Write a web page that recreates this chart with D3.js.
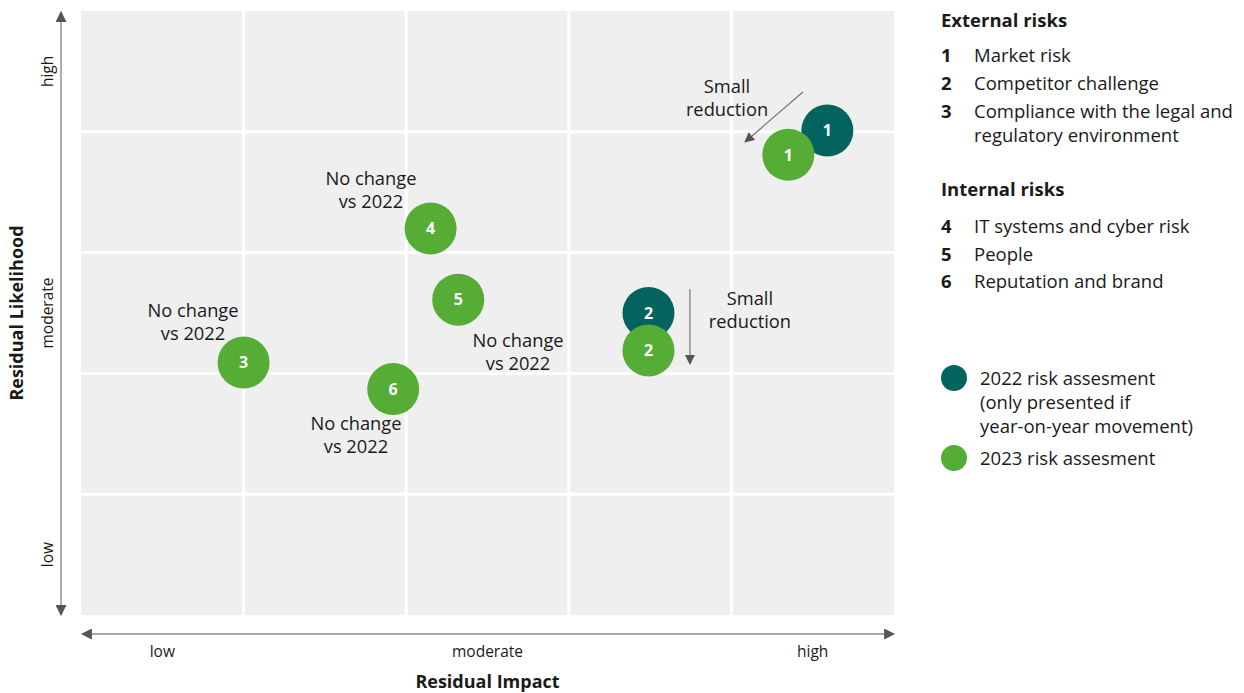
<!DOCTYPE html>
<html>
<head>
<meta charset="utf-8">
<script src="https://cdn.jsdelivr.net/npm/d3@7"></script>
<style>
  html, body { margin: 0; padding: 0; background: #fff; }
  svg { display: block; font-family: "Open Sans", "Noto Sans", sans-serif; }
</style>
</head>
<body>
<svg id="chart" width="1244" height="693"></svg>
<script>
// Risk assessment values (impact / likelihood on a 0–5 grid)
const riskIds      = [1, 1, 2, 2, 3, 4, 5, 6];
const riskYears    = [2022, 2023, 2022, 2023, 2023, 2023, 2023, 2023];
const riskImpact   = [4.59, 4.35, 3.49, 3.49, 1.00, 2.15, 2.32, 1.92];
const riskLikely   = [4.01, 3.81, 2.50, 2.19, 2.09, 3.20, 2.61, 1.87];

const impactLabels     = ["low", "moderate", "high"];
const likelihoodLabels = ["low", "moderate", "high"];

const externalRisks = [["1", "Market risk"], ["2", "Competitor challenge"], ["3", "Compliance with the legal and", "regulatory environment"]];
const internalRisks = [["4", "IT systems and cyber risk"], ["5", "People"], ["6", "Reputation and brand"]];

const yearNames = [2022, 2023];
const yearLegend = [["2022 risk assesment", "(only presented if", "year-on-year movement)"], ["2023 risk assesment"]];

const svg = d3.select("#chart");
const colour = d3.scaleOrdinal().domain(yearNames).range(["#03645f", "#55ad35"]);

const plot = { left: 81, right: 894, top: 11, bottom: 615 };
const x = d3.scaleLinear().domain([0, 5]).range([plot.left, plot.right]);
const y = d3.scaleLinear().domain([0, 5]).range([plot.bottom, plot.top]);

// Markers
const defs = svg.append("defs");
defs.append("marker").attr("id", "tri").attr("viewBox", "0 0 10 10")
  .attr("refX", 9).attr("refY", 5).attr("markerWidth", 10).attr("markerHeight", 10)
  .attr("markerUnits", "userSpaceOnUse").attr("orient", "auto-start-reverse")
  .append("path").attr("d", "M0,0 L10,5 L0,10 Z").attr("fill", "#555");
defs.append("marker").attr("id", "axtri").attr("viewBox", "0 0 10 10")
  .attr("refX", 9).attr("refY", 5).attr("markerWidth", 11).attr("markerHeight", 11)
  .attr("markerUnits", "userSpaceOnUse").attr("orient", "auto-start-reverse")
  .append("path").attr("d", "M0,0 L10,5 L0,10 Z").attr("fill", "#555");

// Background and grid
svg.append("rect").attr("x", plot.left).attr("y", plot.top)
  .attr("width", plot.right - plot.left).attr("height", plot.bottom - plot.top)
  .attr("fill", "#efefef");
const ticks = d3.range(1, 5);
svg.append("g").selectAll("line").data(ticks).join("line")
  .attr("x1", d => x(d)).attr("x2", d => x(d))
  .attr("y1", plot.top).attr("y2", plot.bottom)
  .attr("stroke", "#fff").attr("stroke-width", 3);
svg.append("g").selectAll("line").data(ticks).join("line")
  .attr("y1", d => y(d)).attr("y2", d => y(d))
  .attr("x1", plot.left).attr("x2", plot.right)
  .attr("stroke", "#fff").attr("stroke-width", 3);

// Axis arrows
svg.append("line").attr("x1", 61).attr("x2", 61).attr("y1", plot.top + 1).attr("y2", plot.bottom)
  .attr("stroke", "#999").attr("stroke-width", 1.6)
  .attr("marker-start", "url(#axtri)").attr("marker-end", "url(#axtri)");
svg.append("line").attr("y1", 634).attr("y2", 634).attr("x1", plot.left + 1).attr("x2", plot.right)
  .attr("stroke", "#888").attr("stroke-width", 1.6)
  .attr("marker-start", "url(#axtri)").attr("marker-end", "url(#axtri)");

const labelPos = [0.5, 2.5, 4.5];
svg.append("g").selectAll("text").data(impactLabels).join("text")
  .attr("x", (d, i) => x(labelPos[i])).attr("y", 657)
  .attr("text-anchor", "middle").attr("font-size", 15.5).attr("fill", "#1a1a1a").text(d => d);
svg.append("g").selectAll("text").data(likelihoodLabels).join("text")
  .attr("transform", (d, i) => `translate(53,${y(labelPos[i])}) rotate(-90)`)
  .attr("text-anchor", "middle").attr("font-size", 15.5).attr("fill", "#1a1a1a").text(d => d);

svg.append("text").attr("x", x(2.5)).attr("y", 688).attr("text-anchor", "middle")
  .attr("font-size", 18).attr("font-weight", 700).attr("fill", "#1a1a1a").text("Residual Impact");
svg.append("text").attr("transform", `translate(23,${y(2.5)}) rotate(-90)`).attr("text-anchor", "middle")
  .attr("font-size", 18).attr("font-weight", 700).attr("fill", "#1a1a1a").text("Residual Likelihood");

// Annotations
const notes = [
  { lines: ["Small", "reduction"], at: [3.973, 4.379] },
  { lines: ["No change", "vs 2022"], at: [1.783, 3.618] },
  { lines: ["No change", "vs 2022"], at: [0.689, 2.525] },
  { lines: ["No change", "vs 2022"], at: [2.688, 2.276] },
  { lines: ["No change", "vs 2022"], at: [1.691, 1.589] },
  { lines: ["Small", "reduction"], at: [4.114, 2.624] }
];
const noteG = svg.append("g").selectAll("text").data(notes).join("text")
  .attr("text-anchor", "middle").attr("font-size", 18.3).attr("fill", "#1a1a1a");
noteG.selectAll("tspan").data(d => d.lines.map(l => ({ l, d }))).join("tspan")
  .attr("x", t => x(t.d.at[0]))
  .attr("y", (t, i) => y(t.d.at[1]) + 7 + i * 23)
  .text(t => t.l);

const moves = [
  { from: [4.44, 4.33], to: [4.084, 3.916] },
  { from: [3.745, 2.699], to: [3.745, 2.078] }
];
svg.append("g").selectAll("line").data(moves).join("line")
  .attr("x1", d => x(d.from[0])).attr("y1", d => y(d.from[1]))
  .attr("x2", d => x(d.to[0])).attr("y2", d => y(d.to[1]))
  .attr("stroke", "#777").attr("stroke-width", 1.2)
  .attr("marker-end", "url(#tri)");

// Bubbles
const risks = riskIds.map((id, i) => ({ id, year: riskYears[i], impact: riskImpact[i], likely: riskLikely[i] }));
const bubbles = svg.append("g").selectAll("g").data(risks).join("g")
  .attr("transform", d => `translate(${x(d.impact)},${y(d.likely)})`);
bubbles.append("circle").attr("r", 26).attr("fill", d => colour(d.year));
bubbles.append("text").attr("text-anchor", "middle").attr("dy", "0.36em")
  .attr("font-size", 16).attr("font-weight", 700).attr("fill", "#fff").text(d => d.id);

// Legend: risk list
const leg = svg.append("g").attr("fill", "#1a1a1a");
function riskBlock(title, items, top, gap, step) {
  leg.append("text").attr("x", 941).attr("y", top).attr("font-size", 18.5).attr("font-weight", 700).text(title);
  let row = top + gap;
  items.forEach(it => {
    leg.append("text").attr("x", 941).attr("y", row).attr("font-size", 18.5).attr("font-weight", 700).text(it[0]);
    it.slice(1).forEach((l, j) => {
      leg.append("text").attr("x", 974).attr("y", row + j * 24).attr("font-size", 18.5).text(l);
    });
    row += step + (it.length - 2) * 24;
  });
}
riskBlock("External risks", externalRisks, 27, 35, 28);
riskBlock("Internal risks", internalRisks, 196, 37, 27.5);

// Legend: years
let lrow = 378;
yearNames.forEach((yr, i) => {
  leg.append("circle").attr("cx", 954).attr("cy", lrow).attr("r", 13).attr("fill", colour(yr));
  yearLegend[i].forEach((l, j) => {
    leg.append("text").attr("x", 980).attr("y", lrow + 7 + j * 24).attr("font-size", 18.5).text(l);
  });
  lrow += 80;
});
</script>
</body>
</html>
